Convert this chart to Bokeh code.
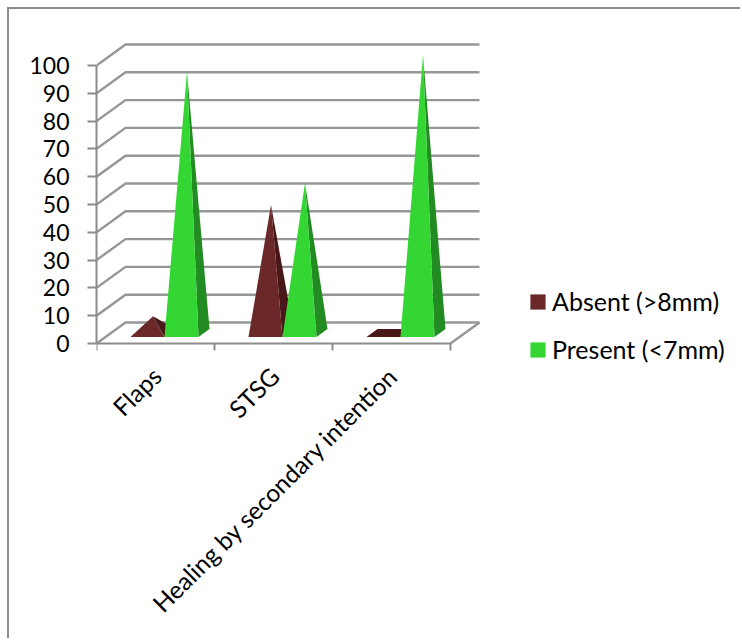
from bokeh.plotting import figure
from bokeh.models import Range1d, FixedTicker, Legend, LegendItem
from bokeh.embed import file_html
from bokeh.resources import INLINE
from math import pi

categories = ["Flaps", "STSG", "Healing by secondary intention"]
absent = [6, 46, 0]
present = [94, 54, 100]
y_ticks = [0, 10, 20, 30, 40, 50, 60, 70, 80, 90, 100]
series_names = ["Absent (>8mm)", "Present (<7mm)"]

BROWN, BROWN_DARK = "#6a2828", "#481818"
GREEN, GREEN_DARK = "#33d633", "#228b22"
GRID = "#969696"
AXIS = "#8c8c8c"
FONT = "Lato"

# pixel scale of the oblique projection
PX_X, PX_Y = 118.0, 2.78
DX, DY = 29 / PX_X, 21 / PX_Y
W, H = 733, 631
FRAME_W = 646
FRAME_ABOVE_ZERO, FRAME_BELOW_ZERO = 334, 297

p = figure(width=W, height=H, output_backend="svg", toolbar_location=None,
           x_range=Range1d(0, FRAME_W / PX_X),
           y_range=Range1d(-FRAME_BELOW_ZERO / PX_Y, FRAME_ABOVE_ZERO / PX_Y),
           min_border_left=W - FRAME_W, min_border_right=0, min_border_top=0,
           min_border_bottom=0, margin=(7, 0, 0, 7),
           styles={"border-top": "2px solid #8c8c8c", "border-left": "2px solid #8c8c8c"})
p.outline_line_color = None
p.grid.visible = False

# walls and floor
xs, ys = [], []
for v in y_ticks:
    xs.append([0, DX, 3 + DX]); ys.append([v, v + DY, v + DY])
xs.append([3, 3 + DX]); ys.append([0, DY])
p.multi_line(xs, ys, line_color=GRID, line_width=2.4)

# pyramids
D_F, D_B = 0.31, 0.69
BW = 34 / PX_X
def faces(i, s, v):
    left = i + 0.5 + D_F * DX + (s - 1) * BW
    right = left + BW
    shift = (D_B - D_F) * DX
    yf, yb = D_F * DY, D_B * DY
    ax = (left + right) / 2 + shift / 2
    ay = v + (yf + yb) / 2
    if v == 0:
        return None, ([left, right, right + shift, left + shift], [yf, yf, yb, yb])
    return ([left, right, ax], [yf, yf, ay]), ([right, right + shift, ax], [yf, yb, ay])

front_renderers = []
for s, (vals, c, cd) in enumerate([(absent, BROWN, BROWN_DARK), (present, GREEN, GREEN_DARK)]):
    fx, fy, sx, sy = [], [], [], []
    for i, v in enumerate(vals):
        fr, sd = faces(i, s, v)
        sx.append(sd[0]); sy.append(sd[1])
        if fr:
            fx.append(fr[0]); fy.append(fr[1])
    p.patches(sx, sy, fill_color=cd, line_color=None)
    front_renderers.append(p.patches(fx, fy, fill_color=c, line_color=None))

# axes
ya = p.yaxis[0]
ya.ticker = FixedTicker(ticks=y_ticks)
ya.bounds = (0, 100)
ya.axis_line_color = AXIS
ya.axis_line_width = 2
ya.major_tick_line_color = AXIS
ya.major_tick_line_width = 2
ya.major_tick_in = 0
ya.major_tick_out = 9
ya.minor_tick_line_color = None
ya.major_label_standoff = 18
ya.major_label_text_font = FONT
ya.major_label_text_font_size = "23px"
ya.major_label_text_color = "#000000"

LABEL_SHIFT = 0.01
label_ticks = [i + 0.5 + LABEL_SHIFT for i in range(3)]
xa = p.xaxis[0]
xa.fixed_location = 0
xa.ticker = FixedTicker(ticks=label_ticks, minor_ticks=[0, 1, 2, 3])
xa.major_label_overrides = dict(zip(label_ticks, categories))
xa.bounds = (0, 3)
xa.axis_line_color = AXIS
xa.axis_line_width = 2
xa.major_tick_line_color = None
xa.minor_tick_line_color = AXIS
xa.minor_tick_line_width = 2
xa.minor_tick_in = 0
xa.minor_tick_out = 7
xa.major_label_orientation = pi / 4
xa.major_label_standoff = 21
xa.major_label_text_font = FONT
xa.major_label_text_font_size = "24.5px"
xa.major_label_text_color = "#000000"

legend = Legend(items=[LegendItem(label=n, renderers=[r]) for n, r in zip(series_names, front_renderers)],
                orientation="vertical", padding=0, margin=0, spacing=18,
                glyph_width=19, glyph_height=19, label_standoff=5, label_height=26,
                label_text_font=FONT, label_text_font_size="25px", label_text_color="#000000",
                background_fill_alpha=0, border_line_color=None)
legend.location = (432, 276)
p.add_layout(legend, "center")

open("out.html", "w").write(file_html(p, INLINE))
